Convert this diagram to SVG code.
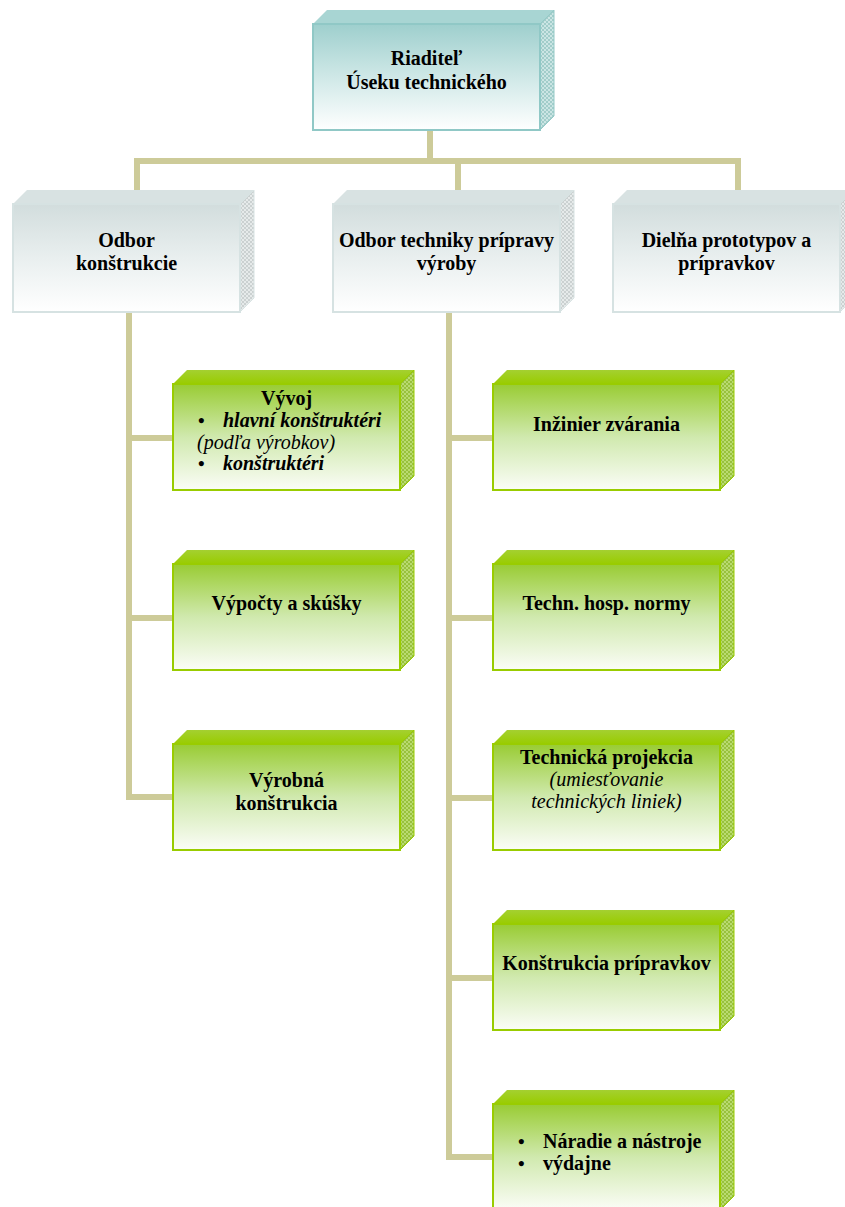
<svg xmlns="http://www.w3.org/2000/svg" xmlns:xlink="http://www.w3.org/1999/xlink" width="845" height="1207" viewBox="0 0 845 1207" font-family="'Liberation Serif', 'Times New Roman', 'DejaVu Serif', serif">
<style>
text{font-family:"Liberation Serif","Times New Roman","DejaVu Serif",serif;font-size:20px;fill:#000;}
.b{font-weight:bold;}
.c{text-anchor:middle;}
.i{font-style:italic;}
.bul{font-weight:bold;font-size:19px;}
.conn{fill:none;stroke:#CDCB99;stroke-width:6;stroke-linejoin:miter;stroke-linecap:butt;}
</style>
<defs>
<linearGradient id="gGreen" x1="0" y1="0" x2="0" y2="1">
<stop offset="0" stop-color="#99CC33"/>
<stop offset="0.5" stop-color="#D0E9AE"/>
<stop offset="1" stop-color="#FBFDF7"/>
</linearGradient>
<linearGradient id="gGray" x1="0" y1="0" x2="0" y2="1">
<stop offset="0" stop-color="#D2DDDD"/>
<stop offset="0.5" stop-color="#E9EFEF"/>
<stop offset="1" stop-color="#FFFFFF"/>
</linearGradient>
<linearGradient id="gTeal" x1="0" y1="0" x2="0" y2="1">
<stop offset="0" stop-color="#9ECFCD"/>
<stop offset="0.5" stop-color="#CFE8E7"/>
<stop offset="1" stop-color="#FFFFFF"/>
</linearGradient>
<linearGradient id="gGreenTop" x1="0" y1="0" x2="0" y2="1">
<stop offset="0" stop-color="#A4D030"/>
<stop offset="1" stop-color="#99CC00"/>
</linearGradient>
<pattern id="pGreen" patternUnits="userSpaceOnUse" width="4" height="4">
<rect width="4" height="4" fill="#B9DB70"/>
<path d="M0,0 L4,4 M4,0 L0,4" stroke="#8FBA2E" stroke-width="0.8"/>
</pattern>
<pattern id="pGray" patternUnits="userSpaceOnUse" width="4" height="4">
<rect width="4" height="4" fill="#E6EAEA"/>
<path d="M0,0 L4,4 M4,0 L0,4" stroke="#C4CACA" stroke-width="0.8"/>
</pattern>
<pattern id="pTeal" patternUnits="userSpaceOnUse" width="4" height="4">
<rect width="4" height="4" fill="#CBE5E4"/>
<path d="M0,0 L4,4 M4,0 L0,4" stroke="#98C6C4" stroke-width="0.8"/>
</pattern>
<g id="gbox">
<polygon points="0,0 14,-14 241,-14 227,0" fill="url(#gGreenTop)"/>
<polygon points="227,0 241,-14 241,92 227,106" fill="url(#pGreen)" stroke="#99CC00" stroke-width="1"/>
<rect x="0" y="0" width="227" height="106" fill="url(#gGreen)" stroke="#99CC00" stroke-width="2"/>
</g>
<g id="graybox">
<polygon points="0,0 14,-14 241,-14 227,0" fill="#D8E2E2"/>
<polygon points="227,0 241,-14 241,94 227,108" fill="url(#pGray)" stroke="#D8E3E3" stroke-width="1"/>
<rect x="0" y="0" width="227" height="108" fill="url(#gGray)" stroke="#D6E2E2" stroke-width="2"/>
</g>
<g id="tealbox">
<polygon points="0,0 14,-14 241,-14 227,0" fill="#A8D5D3"/>
<polygon points="227,0 241,-14 241,92 227,106" fill="url(#pTeal)" stroke="#95CAC8" stroke-width="1"/>
<rect x="0" y="0" width="227" height="106" fill="url(#gTeal)" stroke="#90C8C6" stroke-width="2"/>
</g>
</defs>
<rect width="845" height="1207" fill="#FFFFFF"/>

<g id="connectors">
<path class="conn" d="M430,130 V161"/>
<path class="conn" d="M137,200 V161 H738 V200"/>
<path class="conn" d="M458,161 V200"/>
<path class="conn" d="M129,312 V797 H175"/>
<path class="conn" d="M129,438 H175 M129,618 H175"/>
<path class="conn" d="M449,312 V1157 H495"/>
<path class="conn" d="M449,438 H495 M449,618 H495 M449,798 H495 M449,978 H495"/>
</g>

<g id="n-riaditel" transform="translate(313,24)">
<use xlink:href="#tealbox"/>
<text class="b c" x="113.5" y="41">Riaditeľ</text>
<text class="b c" x="113.5" y="65">Úseku technického</text>
</g>

<g id="n-odbor-konstrukcie" transform="translate(13,204)">
<use xlink:href="#graybox"/>
<text class="b c" x="113.5" y="43">Odbor</text>
<text class="b c" x="113.5" y="66">konštrukcie</text>
</g>

<g id="n-odbor-techniky" transform="translate(333,204)">
<use xlink:href="#graybox"/>
<text class="b c" x="113.5" y="43">Odbor techniky prípravy</text>
<text class="b c" x="113.5" y="66">výroby</text>
</g>

<g id="n-dielna" transform="translate(613,204)">
<use xlink:href="#graybox"/>
<text class="b c" x="113.5" y="43">Dielňa prototypov a</text>
<text class="b c" x="113.5" y="66">prípravkov</text>
</g>

<g id="n-vyvoj" transform="translate(173,384)">
<use xlink:href="#gbox"/>
<text class="b c" x="113.5" y="21">Vývoj</text>
<text class="bul" x="25" y="43">•</text>
<text class="b i" x="50" y="43">hlavní konštruktéri</text>
<text class="i" x="24" y="64.5">(podľa výrobkov)</text>
<text class="bul" x="25" y="86">•</text>
<text class="b i" x="50" y="86">konštruktéri</text>
</g>

<g id="n-vypocty" transform="translate(173,564)">
<use xlink:href="#gbox"/>
<text class="b c" x="113.5" y="46">Výpočty a skúšky</text>
</g>

<g id="n-vyrobna" transform="translate(173,744)">
<use xlink:href="#gbox"/>
<text class="b c" x="113.5" y="43">Výrobná</text>
<text class="b c" x="113.5" y="66">konštrukcia</text>
</g>

<g id="n-inzinier" transform="translate(493,384)">
<use xlink:href="#gbox"/>
<text class="b c" x="113.5" y="47">Inžinier zvárania</text>
</g>

<g id="n-normy" transform="translate(493,564)">
<use xlink:href="#gbox"/>
<text class="b c" x="113.5" y="46">Techn. hosp. normy</text>
</g>

<g id="n-projekcia" transform="translate(493,744)">
<use xlink:href="#gbox"/>
<text class="b c" x="113.5" y="20">Technická projekcia</text>
<text class="i c" x="113.5" y="42">(umiesťovanie</text>
<text class="i c" x="113.5" y="64">technických liniek)</text>
</g>

<g id="n-pripravky" transform="translate(493,924)">
<use xlink:href="#gbox"/>
<text class="b c" x="113.5" y="46">Konštrukcia prípravkov</text>
</g>

<g id="n-naradie" transform="translate(493,1104)">
<use xlink:href="#gbox"/>
<text class="bul" x="25" y="44">•</text>
<text class="b" x="50" y="44">Náradie a nástroje</text>
<text class="bul" x="25" y="66">•</text>
<text class="b" x="50" y="66">výdajne</text>
</g>
</svg>
